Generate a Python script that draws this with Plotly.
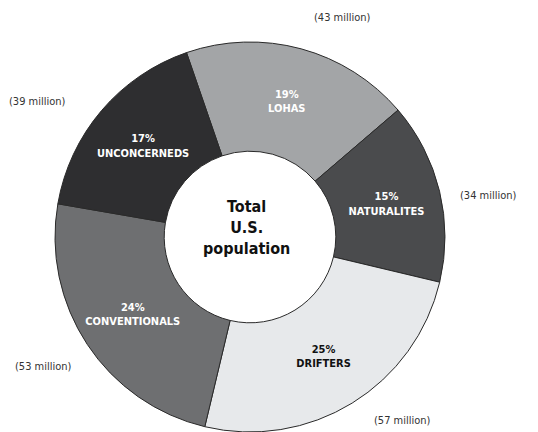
import plotly.graph_objects as go

segments = ["LOHAS", "NATURALITES", "DRIFTERS", "CONVENTIONALS", "UNCONCERNEDS"]
shares = [19, 15, 25, 24, 17]
population_millions = [43, 34, 57, 53, 39]
colors = ["#a3a5a7", "#4a4b4d", "#e7e9eb", "#6e6f71", "#2e2e30"]
text_colors = ["white", "white", "#111111", "white", "white"]
center_label = "Total<br>U.S.<br>population"

FONT = "DejaVu Sans Condensed, Liberation Sans Narrow, Liberation Sans"
W, H = 538, 432
OFF = 8  # page body margin
cx, cy, R = 250 - OFF, 237 - OFF, 195

fig = go.Figure()
fig.add_trace(go.Pie(
    labels=segments,
    values=shares,
    text=[f"<b>{s}%<br>{n}</b>" for s, n in zip(shares, segments)],
    textinfo="text",
    textposition="inside",
    insidetextorientation="horizontal",
    textfont=dict(family=FONT, size=11, color=text_colors),
    hole=0.44,
    sort=False,
    direction="clockwise",
    rotation=-19,
    marker=dict(colors=colors, line=dict(color="#2a2a2a", width=1)),
    domain=dict(x=[(cx - R) / W, (cx + R) / W], y=[(H - cy - R) / H, (H - cy + R) / H]),
    showlegend=False,
))

fig.add_annotation(x=(246 - OFF) / W, y=1 - (227 - OFF) / H, xref="paper", yref="paper",
                   xanchor="center", yanchor="middle",
                   text=f"<b>{center_label}</b>", showarrow=False,
                   font=dict(family=FONT, size=16, color="#111111"))

label_pos = [(342, 18), (488, 195), (402, 420), (43, 366), (37, 102)]
for (x, y), p in zip(label_pos, population_millions):
    fig.add_annotation(x=(x - OFF) / W, y=1 - (y - OFF) / H, xref="paper", yref="paper",
                       xanchor="center", yanchor="middle",
                       text=f"({p} million)", showarrow=False,
                       font=dict(family=FONT, size=11, color="#333333"))

fig.update_layout(width=W, height=H, margin=dict(l=0, r=0, t=0, b=0),
                  paper_bgcolor="white", plot_bgcolor="white")
fig.write_html("out.html")
